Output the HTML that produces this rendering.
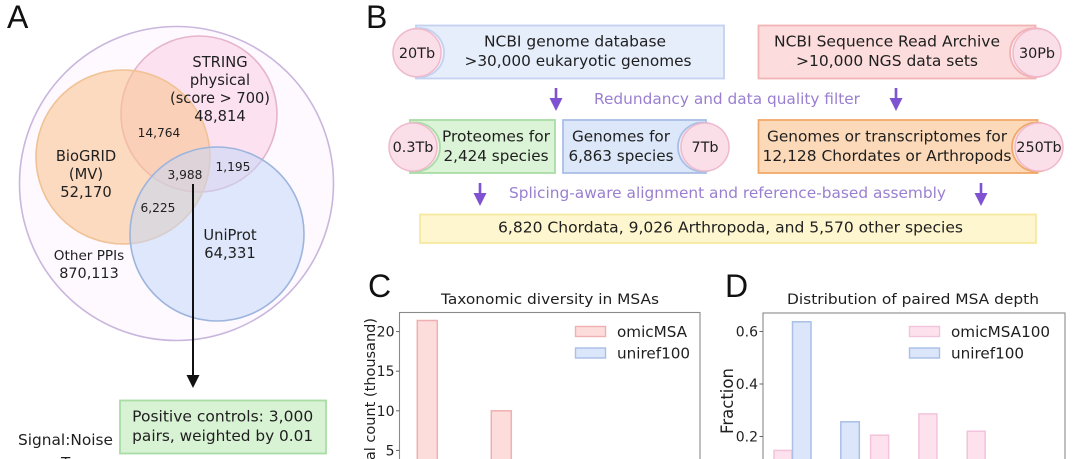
<!DOCTYPE html>
<html><head><meta charset="utf-8"><title>Figure panels</title>
<style>
html,body{margin:0;padding:0;background:#fff;width:1080px;height:459px;overflow:hidden}
svg{display:block}
text{font-family:"DejaVu Sans","Liberation Sans",sans-serif;fill:#1f1f1f;font-size:15.2px}
.m{text-anchor:middle}
.v{font-size:14.7px}
.s{font-size:12.2px}
.tb{font-size:14.4px}
.letter{font-family:"Liberation Sans",sans-serif;font-size:32px;fill:#111}
.pur{fill:#9a7fd0}
.pink{fill:#fbdfe8;stroke:#efb9cd;stroke-width:1.5}
</style></head><body>
<svg id="fig" width="1080" height="459" viewBox="0 0 1080 459" xmlns="http://www.w3.org/2000/svg">
<defs>
<clipPath id="canvas"><rect x="0" y="0" width="1080" height="459"/></clipPath>
</defs>
<text class="letter" x="7" y="28">A</text>
<text class="letter" x="366" y="28">B</text>
<text class="letter" x="368" y="297">C</text>
<text class="letter" x="725" y="297">D</text>

<!-- Panel A -->
<g>
<circle cx="176.5" cy="183.5" r="157" fill="#fdf9fe" stroke="#c9b6dd" stroke-width="1.6"/>
<circle cx="199" cy="114" r="78" fill="#fbdcee" fill-opacity=".8" stroke="#e6b4cd" stroke-width="1.6"/>
<circle cx="123" cy="157" r="87" fill="#f9c291" fill-opacity=".58" stroke="#f0c296" stroke-width="1.6"/>
<circle cx="217" cy="234" r="87" fill="#c2d6f8" fill-opacity=".52" stroke="#9db4dd" stroke-width="1.6"/>
<g class="m">
<text class="m v" x="220" y="67">STRING</text>
<text class="m v" x="220" y="85">physical</text>
<text class="m v" x="220" y="103" textLength="100" lengthAdjust="spacingAndGlyphs">(score &gt; 700)</text>
<text class="m v" x="220" y="121">48,814</text>
<text class="m s" x="159" y="137">14,764</text>
<text class="m v" x="86" y="161">BioGRID</text>
<text class="m v" x="86" y="179">(MV)</text>
<text class="m v" x="86" y="197">52,170</text>
<text class="m s" x="185" y="179">3,988</text>
<text class="m s" x="233" y="171">1,195</text>
<text class="m s" x="158" y="212">6,225</text>
<text class="m v" x="230" y="240">UniProt</text>
<text class="m v" x="230" y="258">64,331</text>
<text class="m" x="89" y="260" style="font-size:13.6px">Other PPIs</text>
<text class="m" x="89" y="278" style="font-size:14.4px">870,113</text>
</g>
<line x1="193" y1="184" x2="193" y2="378" stroke="#111" stroke-width="2"/>
<polygon points="186.5,375 199.5,375 193,388" fill="#111"/>
<rect x="120" y="400.5" width="206" height="53" fill="#d8f2d4" stroke="#a9dca6" stroke-width="1.8"/>
<text class="m" x="222.7" y="421.5" textLength="181" lengthAdjust="spacingAndGlyphs">Positive controls: 3,000</text>
<text class="m" x="222.7" y="441" textLength="181" lengthAdjust="spacingAndGlyphs">pairs, weighted by 0.01</text>
<text x="18" y="445" textLength="95" lengthAdjust="spacingAndGlyphs">Signal:Noise</text>
<text x="61" y="468" clip-path="url(#canvas)">T</text>
</g>

<!-- Panel B -->
<g>
<rect x="416" y="25.5" width="308" height="53" fill="#e6eefc" stroke="#c3d2f0" stroke-width="1.8"/>
<circle cx="419.5" cy="52.7" r="24.5" fill="#f6f2fa" stroke="#c3d2f0" stroke-width="1.8"/>
<circle class="pink" cx="417" cy="52.7" r="24"/>
<text class="m tb" x="417" y="58">20Tb</text>
<text class="m" x="575" y="46.5" textLength="182" lengthAdjust="spacingAndGlyphs">NCBI genome database</text>
<text class="m" x="578" y="66" textLength="227" lengthAdjust="spacingAndGlyphs">&gt;30,000 eukaryotic genomes</text>

<rect x="758.5" y="25.5" width="277" height="53" fill="#fcdcdc" stroke="#f2b3b3" stroke-width="1.8"/>
<circle cx="1034.5" cy="52.7" r="24.5" fill="#fbeef0" stroke="#f2b3b3" stroke-width="1.8"/>
<circle class="pink" cx="1037" cy="52.7" r="24"/>
<text class="m tb" x="1037" y="58">30Pb</text>
<text class="m" x="887" y="46.5" textLength="226" lengthAdjust="spacingAndGlyphs">NCBI Sequence Read Archive</text>
<text class="m" x="887" y="66" textLength="182" lengthAdjust="spacingAndGlyphs">&gt;10,000 NGS data sets</text>

<polygon points="554.7,88 557.3,88 557.3,98 562.5,98 556,111 549.5,98 554.7,98" fill="#7f52d2"/>
<polygon points="894.7,88 897.3,88 897.3,98 902.5,98 896,111 889.5,98 894.7,98" fill="#7f52d2"/>
<text class="m pur" x="727" y="104" textLength="266" lengthAdjust="spacingAndGlyphs">Redundancy and data quality filter</text>

<rect x="410" y="120" width="145" height="53" fill="#dbf3d6" stroke="#a9dca6" stroke-width="1.8"/>
<circle cx="415.5" cy="147" r="24.5" fill="#f0f5ea" stroke="#a9dca6" stroke-width="1.8"/>
<circle class="pink" cx="413" cy="147" r="24"/>
<text class="m tb" x="413" y="152">0.3Tb</text>
<text class="m" x="496" y="141.5" textLength="108" lengthAdjust="spacingAndGlyphs">Proteomes for</text>
<text class="m" x="496" y="161" textLength="105" lengthAdjust="spacingAndGlyphs">2,424 species</text>

<rect x="563" y="120" width="143" height="53" fill="#dce7fa" stroke="#a9bfe6" stroke-width="1.8"/>
<circle cx="702.5" cy="147" r="24.5" fill="#f0eef8" stroke="#a9bfe6" stroke-width="1.8"/>
<circle class="pink" cx="705" cy="147" r="24"/>
<text class="m tb" x="705" y="152">7Tb</text>
<text class="m" x="621" y="141.5" textLength="98" lengthAdjust="spacingAndGlyphs">Genomes for</text>
<text class="m" x="621" y="161" textLength="105" lengthAdjust="spacingAndGlyphs">6,863 species</text>

<rect x="758.5" y="120" width="279" height="53" fill="#fcd9b8" stroke="#f0a868" stroke-width="1.8"/>
<circle cx="1036.5" cy="147" r="24.5" fill="#fbeadf" stroke="#f0a868" stroke-width="1.8"/>
<circle class="pink" cx="1039" cy="147" r="24"/>
<text class="m tb" x="1039" y="152">250Tb</text>
<text class="m" x="887" y="141.5" textLength="240" lengthAdjust="spacingAndGlyphs">Genomes or transcriptomes for</text>
<text class="m" x="887" y="161" textLength="249" lengthAdjust="spacingAndGlyphs">12,128 Chordates or Arthropods</text>

<polygon points="478.7,183 481.3,183 481.3,193 486.5,193 480,206 473.5,193 478.7,193" fill="#7f52d2"/>
<polygon points="979.7,183 982.3,183 982.3,193 987.5,193 981,206 974.5,193 979.7,193" fill="#7f52d2"/>
<text class="m pur" x="727.5" y="198" textLength="437" lengthAdjust="spacingAndGlyphs">Splicing-aware alignment and reference-based assembly</text>

<rect x="420" y="214.5" width="616" height="28.5" fill="#fdf6cf" stroke="#f7e9a0" stroke-width="1.8"/>
<text class="m" x="730.5" y="232.7" textLength="465" lengthAdjust="spacingAndGlyphs">6,820 Chordata, 9,026 Arthropoda, and 5,570 other species</text>
</g>

<g id="chartC" clip-path="url(#canvas)"></g>
<g id="chartD" clip-path="url(#canvas)"></g>
</svg>
<script>
var cCategories = ["bin1", "bin2", "bin3", "bin4"];
var cOmicMSA = [21.4, 10, 3.2, 1.5];
var cUniref100 = [2.5, 1.2, 0.4, 0.2];
var cTicks = [5, 10, 15, 20];
var dCategories = ["bin1", "bin2", "bin3", "bin4", "bin5", "bin6"];
var dOmicMSA100 = [0.147, 0.09, 0.205, 0.286, 0.22, 0.05];
var dUniref100 = [0.637, 0.256, 0.07, 0.03, 0.01, 0.005];
var dTicks = [0.2, 0.4, 0.6];

var NS = "http://www.w3.org/2000/svg";
function mk(parent, tag, attrs, txt) {
  var e = document.createElementNS(NS, tag);
  for (var k in attrs) { e.setAttribute(k, attrs[k]); }
  if (txt !== undefined) { e.textContent = txt; }
  parent.appendChild(e);
  return e;
}
function drawAxes(g, left, right, top, yScale, ticks, fmt) {
  var frame = mk(g, "rect", {x: left, y: top, width: right - left, height: 300, fill: "none", stroke: "#8a8a8a", "stroke-width": 1.1});
  
  
  ticks.forEach(function (t) {
    var tick = mk(g, "line", {x1: left - 3.5, x2: left, y1: yScale(t), y2: yScale(t), stroke: "#666", "stroke-width": 1});
    
    
    var lab = mk(g, "text", {x: left - 5, y: yScale(t) + 5, "text-anchor": "end", style: "font-size:14px"}, fmt(t));
    
    
  });
}
function drawBars(g, xScale, yScale, values, w, offset, fill, stroke, name) {
  values.forEach(function (v, i) {
    var y = yScale(v);
    var bar = mk(g, "rect", {x: xScale(i) + offset, y: y, width: w, height: Math.max(yScale(0) - y, 0), fill: fill, stroke: stroke, "stroke-width": 1.5});
    
    
  });
}
function drawLegend(g, x, labels, fills, strokes) {
  var ys = [326.5, 348];
  labels.forEach(function (lab, i) {
    var p = mk(g, "rect", {x: x, y: ys[i], width: 30, height: 10, fill: fills[i], stroke: strokes[i], "stroke-width": 1.4});
    
    
    var t = mk(g, "text", {x: x + 41.5, y: ys[i] + 10.5}, lab);
    
    
  });
}

var PINKRED = ["#fddcdc", "#eeb0b0"], BLUE = ["#dbe6fa", "#a9bfe6"], PINK = ["#fde2ee", "#f2c3da"];

/* Panel C */
(function () {
  var g = document.getElementById("chartC");
  var yC = function (v) { return 490 - v * 7.92; };
  var xC = function (i) { return 417.3 + i * 74; };
  var title = mk(g, "text", {x: 550, y: 304, "text-anchor": "middle", style: "font-size:14.5px", textLength: 218, lengthAdjust: "spacingAndGlyphs"}, "Taxonomic diversity in MSAs");
  
  
  drawBars(g, xC, yC, cOmicMSA, 20, 0, PINKRED[0], PINKRED[1], "omicmsa-bar");
  drawBars(g, xC, yC, cUniref100, 20, 20, BLUE[0], BLUE[1], "uniref100-bar");
  drawAxes(g, 399.5, 700, 312.5, yC, cTicks, function (t) { return String(t); });
  drawLegend(g, 575.5, ["omicMSA", "uniref100"], [PINKRED[0], BLUE[0]], [PINKRED[1], BLUE[1]]);
  var yl = mk(g, "text", {x: 0, y: 0, "text-anchor": "end", transform: "translate(375,318) rotate(-90)", style: "font-size:14.5px"}, "Total count (thousand)");
  
  
})();

/* Panel D */
(function () {
  var g = document.getElementById("chartD");
  var yD = function (v) { return 489 - v * 262.5; };
  var xD = function (i) { return 774 + i * 48.3; };
  var title = mk(g, "text", {x: 913, y: 304, "text-anchor": "middle", style: "font-size:14.5px", textLength: 252, lengthAdjust: "spacingAndGlyphs"}, "Distribution of paired MSA depth");
  
  
  drawBars(g, xD, yD, dOmicMSA100, 18, 0, PINK[0], PINK[1], "omicmsa100-bar");
  drawBars(g, xD, yD, dUniref100, 18.5, 18.5, BLUE[0], BLUE[1], "uniref100-bar");
  drawAxes(g, 763, 1065, 313, yD, dTicks, function (t) { return t.toFixed(1); });
  drawLegend(g, 909.5, ["omicMSA100", "uniref100"], [PINK[0], BLUE[0]], [PINK[1], BLUE[1]]);
  var yl = mk(g, "text", {x: 0, y: 0, "text-anchor": "middle", transform: "translate(733,401) rotate(-90)", style: "font-size:16.5px"}, "Fraction");
  
  
})();
</script>
</body></html>
